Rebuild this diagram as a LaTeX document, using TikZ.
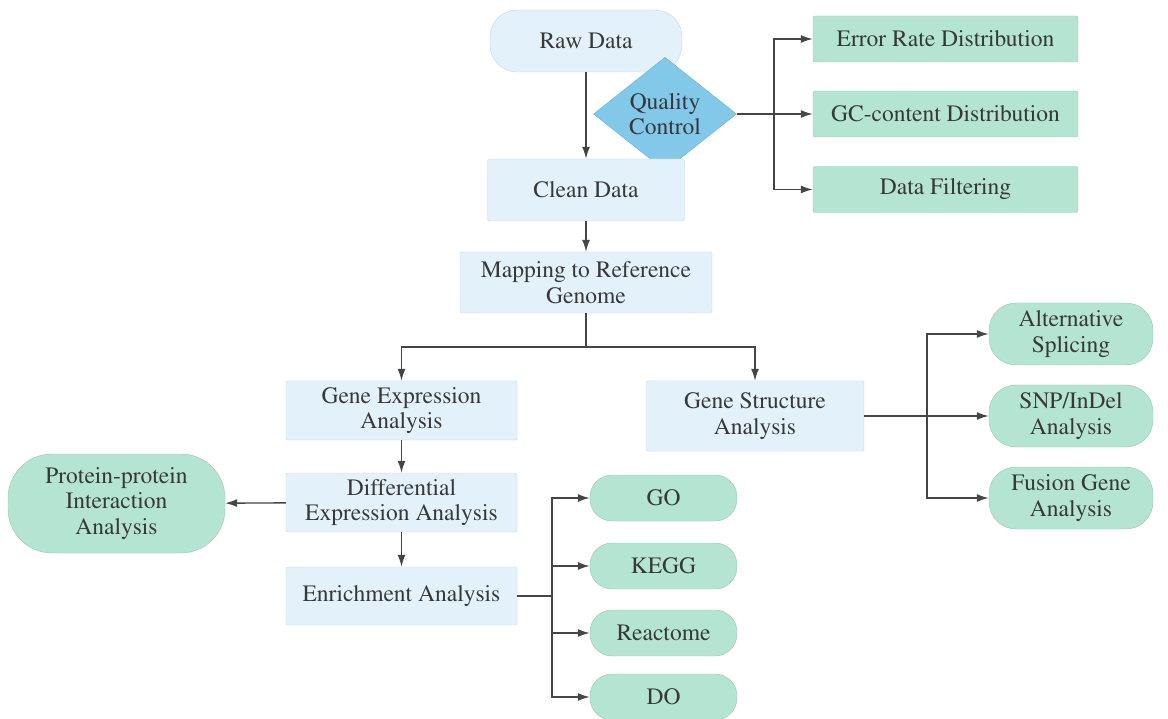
\documentclass[tikz,border=0pt]{standalone}
\usepackage[T1]{fontenc}
\usepackage{mathptmx}
\usetikzlibrary{arrows.meta,shapes.geometric}
\definecolor{bluefill}{HTML}{E3F2FA}
\definecolor{blueedge}{HTML}{C5D6E2}
\definecolor{greenfill}{HTML}{B4E5D3}
\definecolor{greenedge}{HTML}{9CC3B2}
\definecolor{qcfill}{HTML}{82C8E8}
\definecolor{qcedge}{HTML}{6DB2D3}
\definecolor{linecol}{HTML}{454545}
\definecolor{textcol}{HTML}{383838}
\begin{document}
\begin{tikzpicture}[x=1pt,y=-1pt,>={Latex[length=12pt,width=8pt]},
  every node/.style={font=\fontsize{23.5}{25.5}\selectfont,text=textcol,align=center,inner sep=2pt},
  bluebox/.style={draw=blueedge,fill=bluefill,rounded corners=2pt},
  greenbox/.style={draw=greenedge,fill=greenfill,rounded corners=2pt},
  bluepill/.style={draw=blueedge,fill=bluefill,rounded corners=27pt},
  greenpill/.style={draw=greenedge,fill=greenfill,rounded corners=22pt},
  conn/.style={draw=linecol,line width=1.4pt},
  stem/.style={draw=linecol,line width=2.2pt}]
\useasboundingbox (0,0) rectangle (1168,719);
% main column
\node[bluepill,minimum width=192pt,minimum height=62pt] (raw) at (586,41) {Raw Data};
\node[diamond,draw=qcedge,fill=qcfill,minimum width=143pt,minimum height=73pt,inner sep=0pt] (qc) at (665,114) {Quality\\Control};
\node[bluebox,minimum width=197pt,minimum height=62pt] (clean) at (586,190) {Clean Data};
\node[bluebox,minimum width=252pt,minimum height=61pt] (map) at (586,282.5) {Mapping to Reference\\Genome};
\node[bluebox,minimum width=231pt,minimum height=59pt] (gexp) at (401.5,410.5) {Gene Expression\\Analysis};
\node[bluebox,minimum width=231pt,minimum height=59pt] (diff) at (401.5,502.5) {Differential\\Expression Analysis};
\node[bluebox,minimum width=231pt,minimum height=58pt] (enr) at (401.5,596) {Enrichment Analysis};
\node[bluebox,minimum width=218pt,minimum height=70pt] (gs) at (755,416) {Gene Structure\\Analysis};
% quality control results
\node[greenbox,minimum width=265pt,minimum height=46pt] (err) at (945.5,39) {Error Rate Distribution};
\node[greenbox,minimum width=265pt,minimum height=46pt] (gc) at (945.5,114) {GC-content Distribution};
\node[greenbox,minimum width=265pt,minimum height=46pt] (filt) at (945.5,189.5) {Data Filtering};
% outputs
\node[greenpill,rounded corners=44pt,minimum width=217pt,minimum height=99pt] (ppi) at (116.5,503.5) {Protein-protein\\Interaction\\Analysis};
\node[greenpill,minimum width=147pt,minimum height=46pt] (go) at (663.5,498) {GO};
\node[greenpill,minimum width=147pt,minimum height=46pt] (kegg) at (663.5,566) {KEGG};
\node[greenpill,minimum width=147pt,minimum height=46pt] (react) at (663.5,633) {Reactome};
\node[greenpill,minimum width=147pt,minimum height=46pt] (do) at (663.5,697) {DO};
\node[greenpill,rounded corners=27pt,minimum width=164pt,minimum height=62pt] (as) at (1071,334) {Alternative\\Splicing};
\node[greenpill,rounded corners=27pt,minimum width=164pt,minimum height=62pt] (snp) at (1071,416) {SNP/InDel\\Analysis};
\node[greenpill,rounded corners=27pt,minimum width=164pt,minimum height=62pt] (fus) at (1071,498) {Fusion Gene\\Analysis};
% forks
\coordinate (qcfork) at (774,114);
\coordinate (mapfork) at (586,347);
\coordinate (enrfork) at (552,596);
\coordinate (gsfork) at (927,416);
% connectors
\draw[conn,->] (raw) -- (clean);
\draw[conn,->] (clean) -- (map);
\draw[stem] (qc.east) -- (qcfork);
\draw[conn,->] (qcfork) |- (err);
\draw[conn,->] (qcfork) -- (gc);
\draw[conn,->] (qcfork) |- (filt);
\draw[conn] (map) -- (mapfork);
\draw[conn,->] (mapfork) -| (gexp);
\draw[conn,->] (mapfork) -| (gs);
\draw[conn,->] (gexp) -- (diff);
\draw[conn,->] (diff) -- (enr);
\draw[conn,->] (diff) -- (ppi);
\draw[stem] (enr) -- (enrfork);
\draw[conn,->] (enrfork) |- (go);
\draw[conn,->] (enrfork) |- (kegg);
\draw[conn,->] (enrfork) |- (react);
\draw[conn,->] (enrfork) |- (do);
\draw[stem] (gs) -- (gsfork);
\draw[conn,->] (gsfork) |- (as);
\draw[conn,->] (gsfork) -- (snp);
\draw[conn,->] (gsfork) |- (fus);
\end{tikzpicture}
\end{document}
